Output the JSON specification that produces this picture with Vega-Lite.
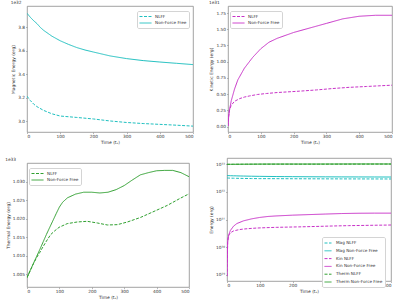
{
  "$schema": "https://vega.github.io/schema/vega-lite/v6.json",
  "padding": {"left": 4, "top": 0, "right": 2, "bottom": 2},
  "datasets": {
    "energy": [
      {"kind": "Mag", "model": "Non-Force Free", "series": "Mag Non-Force Free", "t": 0, "erg": 3.92e32},
      {"kind": "Mag", "model": "Non-Force Free", "series": "Mag Non-Force Free", "t": 10, "erg": 3.886e32},
      {"kind": "Mag", "model": "Non-Force Free", "series": "Mag Non-Force Free", "t": 20, "erg": 3.857e32},
      {"kind": "Mag", "model": "Non-Force Free", "series": "Mag Non-Force Free", "t": 30, "erg": 3.832e32},
      {"kind": "Mag", "model": "Non-Force Free", "series": "Mag Non-Force Free", "t": 40, "erg": 3.8e32},
      {"kind": "Mag", "model": "Non-Force Free", "series": "Mag Non-Force Free", "t": 50, "erg": 3.775e32},
      {"kind": "Mag", "model": "Non-Force Free", "series": "Mag Non-Force Free", "t": 75, "erg": 3.725e32},
      {"kind": "Mag", "model": "Non-Force Free", "series": "Mag Non-Force Free", "t": 100, "erg": 3.686e32},
      {"kind": "Mag", "model": "Non-Force Free", "series": "Mag Non-Force Free", "t": 125, "erg": 3.655e32},
      {"kind": "Mag", "model": "Non-Force Free", "series": "Mag Non-Force Free", "t": 150, "erg": 3.628e32},
      {"kind": "Mag", "model": "Non-Force Free", "series": "Mag Non-Force Free", "t": 175, "erg": 3.607e32},
      {"kind": "Mag", "model": "Non-Force Free", "series": "Mag Non-Force Free", "t": 200, "erg": 3.59e32},
      {"kind": "Mag", "model": "Non-Force Free", "series": "Mag Non-Force Free", "t": 250, "erg": 3.557e32},
      {"kind": "Mag", "model": "Non-Force Free", "series": "Mag Non-Force Free", "t": 300, "erg": 3.534e32},
      {"kind": "Mag", "model": "Non-Force Free", "series": "Mag Non-Force Free", "t": 350, "erg": 3.517e32},
      {"kind": "Mag", "model": "Non-Force Free", "series": "Mag Non-Force Free", "t": 400, "erg": 3.505e32},
      {"kind": "Mag", "model": "Non-Force Free", "series": "Mag Non-Force Free", "t": 450, "erg": 3.494e32},
      {"kind": "Mag", "model": "Non-Force Free", "series": "Mag Non-Force Free", "t": 500, "erg": 3.483e32},

      {"kind": "Mag", "model": "NLFF", "series": "Mag NLFF", "t": 0, "erg": 3.214e32},
      {"kind": "Mag", "model": "NLFF", "series": "Mag NLFF", "t": 5, "erg": 3.195e32},
      {"kind": "Mag", "model": "NLFF", "series": "Mag NLFF", "t": 10, "erg": 3.177e32},
      {"kind": "Mag", "model": "NLFF", "series": "Mag NLFF", "t": 20, "erg": 3.147e32},
      {"kind": "Mag", "model": "NLFF", "series": "Mag NLFF", "t": 30, "erg": 3.125e32},
      {"kind": "Mag", "model": "NLFF", "series": "Mag NLFF", "t": 50, "erg": 3.093e32},
      {"kind": "Mag", "model": "NLFF", "series": "Mag NLFF", "t": 75, "erg": 3.064e32},
      {"kind": "Mag", "model": "NLFF", "series": "Mag NLFF", "t": 100, "erg": 3.045e32},
      {"kind": "Mag", "model": "NLFF", "series": "Mag NLFF", "t": 150, "erg": 3.033e32},
      {"kind": "Mag", "model": "NLFF", "series": "Mag NLFF", "t": 200, "erg": 3.02e32},
      {"kind": "Mag", "model": "NLFF", "series": "Mag NLFF", "t": 250, "erg": 3.003e32},
      {"kind": "Mag", "model": "NLFF", "series": "Mag NLFF", "t": 300, "erg": 2.99e32},
      {"kind": "Mag", "model": "NLFF", "series": "Mag NLFF", "t": 350, "erg": 2.981e32},
      {"kind": "Mag", "model": "NLFF", "series": "Mag NLFF", "t": 400, "erg": 2.974e32},
      {"kind": "Mag", "model": "NLFF", "series": "Mag NLFF", "t": 450, "erg": 2.967e32},
      {"kind": "Mag", "model": "NLFF", "series": "Mag NLFF", "t": 500, "erg": 2.959e32},

      {"kind": "Kin", "model": "Non-Force Free", "series": "Kin Non-Force Free", "t": 0, "erg": 9e28},
      {"kind": "Kin", "model": "Non-Force Free", "series": "Kin Non-Force Free", "t": 2, "erg": 0.15e31},
      {"kind": "Kin", "model": "Non-Force Free", "series": "Kin Non-Force Free", "t": 5, "erg": 0.27e31},
      {"kind": "Kin", "model": "Non-Force Free", "series": "Kin Non-Force Free", "t": 10, "erg": 0.40e31},
      {"kind": "Kin", "model": "Non-Force Free", "series": "Kin Non-Force Free", "t": 20, "erg": 0.58e31},
      {"kind": "Kin", "model": "Non-Force Free", "series": "Kin Non-Force Free", "t": 30, "erg": 0.72e31},
      {"kind": "Kin", "model": "Non-Force Free", "series": "Kin Non-Force Free", "t": 50, "erg": 0.90e31},
      {"kind": "Kin", "model": "Non-Force Free", "series": "Kin Non-Force Free", "t": 75, "erg": 1.065e31},
      {"kind": "Kin", "model": "Non-Force Free", "series": "Kin Non-Force Free", "t": 100, "erg": 1.20e31},
      {"kind": "Kin", "model": "Non-Force Free", "series": "Kin Non-Force Free", "t": 125, "erg": 1.30e31},
      {"kind": "Kin", "model": "Non-Force Free", "series": "Kin Non-Force Free", "t": 150, "erg": 1.36e31},
      {"kind": "Kin", "model": "Non-Force Free", "series": "Kin Non-Force Free", "t": 200, "erg": 1.45e31},
      {"kind": "Kin", "model": "Non-Force Free", "series": "Kin Non-Force Free", "t": 250, "erg": 1.52e31},
      {"kind": "Kin", "model": "Non-Force Free", "series": "Kin Non-Force Free", "t": 300, "erg": 1.59e31},
      {"kind": "Kin", "model": "Non-Force Free", "series": "Kin Non-Force Free", "t": 350, "erg": 1.66e31},
      {"kind": "Kin", "model": "Non-Force Free", "series": "Kin Non-Force Free", "t": 400, "erg": 1.70e31},
      {"kind": "Kin", "model": "Non-Force Free", "series": "Kin Non-Force Free", "t": 450, "erg": 1.715e31},
      {"kind": "Kin", "model": "Non-Force Free", "series": "Kin Non-Force Free", "t": 500, "erg": 1.715e31},

      {"kind": "Kin", "model": "NLFF", "series": "Kin NLFF", "t": 0, "erg": 9e28},
      {"kind": "Kin", "model": "NLFF", "series": "Kin NLFF", "t": 2, "erg": 0.16e31},
      {"kind": "Kin", "model": "NLFF", "series": "Kin NLFF", "t": 4, "erg": 0.24e31},
      {"kind": "Kin", "model": "NLFF", "series": "Kin NLFF", "t": 6, "erg": 0.28e31},
      {"kind": "Kin", "model": "NLFF", "series": "Kin NLFF", "t": 10, "erg": 0.33e31},
      {"kind": "Kin", "model": "NLFF", "series": "Kin NLFF", "t": 20, "erg": 0.39e31},
      {"kind": "Kin", "model": "NLFF", "series": "Kin NLFF", "t": 36, "erg": 0.432e31},
      {"kind": "Kin", "model": "NLFF", "series": "Kin NLFF", "t": 50, "erg": 0.455e31},
      {"kind": "Kin", "model": "NLFF", "series": "Kin NLFF", "t": 66, "erg": 0.473e31},
      {"kind": "Kin", "model": "NLFF", "series": "Kin NLFF", "t": 90, "erg": 0.495e31},
      {"kind": "Kin", "model": "NLFF", "series": "Kin NLFF", "t": 117, "erg": 0.51e31},
      {"kind": "Kin", "model": "NLFF", "series": "Kin NLFF", "t": 150, "erg": 0.525e31},
      {"kind": "Kin", "model": "NLFF", "series": "Kin NLFF", "t": 218, "erg": 0.546e31},
      {"kind": "Kin", "model": "NLFF", "series": "Kin NLFF", "t": 270, "erg": 0.565e31},
      {"kind": "Kin", "model": "NLFF", "series": "Kin NLFF", "t": 320, "erg": 0.587e31},
      {"kind": "Kin", "model": "NLFF", "series": "Kin NLFF", "t": 370, "erg": 0.605e31},
      {"kind": "Kin", "model": "NLFF", "series": "Kin NLFF", "t": 422, "erg": 0.618e31},
      {"kind": "Kin", "model": "NLFF", "series": "Kin NLFF", "t": 460, "erg": 0.628e31},
      {"kind": "Kin", "model": "NLFF", "series": "Kin NLFF", "t": 500, "erg": 0.638e31},

      {"kind": "Therm", "model": "Non-Force Free", "series": "Therm Non-Force Free", "t": 0, "erg": 1.0041e33},
      {"kind": "Therm", "model": "Non-Force Free", "series": "Therm Non-Force Free", "t": 10, "erg": 1.0061e33},
      {"kind": "Therm", "model": "Non-Force Free", "series": "Therm Non-Force Free", "t": 20, "erg": 1.008e33},
      {"kind": "Therm", "model": "Non-Force Free", "series": "Therm Non-Force Free", "t": 30, "erg": 1.0099e33},
      {"kind": "Therm", "model": "Non-Force Free", "series": "Therm Non-Force Free", "t": 40, "erg": 1.0118e33},
      {"kind": "Therm", "model": "Non-Force Free", "series": "Therm Non-Force Free", "t": 50, "erg": 1.0138e33},
      {"kind": "Therm", "model": "Non-Force Free", "series": "Therm Non-Force Free", "t": 60, "erg": 1.0158e33},
      {"kind": "Therm", "model": "Non-Force Free", "series": "Therm Non-Force Free", "t": 75, "erg": 1.0186e33},
      {"kind": "Therm", "model": "Non-Force Free", "series": "Therm Non-Force Free", "t": 90, "erg": 1.0214e33},
      {"kind": "Therm", "model": "Non-Force Free", "series": "Therm Non-Force Free", "t": 100, "erg": 1.0232e33},
      {"kind": "Therm", "model": "Non-Force Free", "series": "Therm Non-Force Free", "t": 110, "erg": 1.0245e33},
      {"kind": "Therm", "model": "Non-Force Free", "series": "Therm Non-Force Free", "t": 125, "erg": 1.0257e33},
      {"kind": "Therm", "model": "Non-Force Free", "series": "Therm Non-Force Free", "t": 150, "erg": 1.0267e33},
      {"kind": "Therm", "model": "Non-Force Free", "series": "Therm Non-Force Free", "t": 175, "erg": 1.0272e33},
      {"kind": "Therm", "model": "Non-Force Free", "series": "Therm Non-Force Free", "t": 200, "erg": 1.0272e33},
      {"kind": "Therm", "model": "Non-Force Free", "series": "Therm Non-Force Free", "t": 225, "erg": 1.027e33},
      {"kind": "Therm", "model": "Non-Force Free", "series": "Therm Non-Force Free", "t": 250, "erg": 1.0272e33},
      {"kind": "Therm", "model": "Non-Force Free", "series": "Therm Non-Force Free", "t": 275, "erg": 1.0279e33},
      {"kind": "Therm", "model": "Non-Force Free", "series": "Therm Non-Force Free", "t": 300, "erg": 1.029e33},
      {"kind": "Therm", "model": "Non-Force Free", "series": "Therm Non-Force Free", "t": 325, "erg": 1.0305e33},
      {"kind": "Therm", "model": "Non-Force Free", "series": "Therm Non-Force Free", "t": 350, "erg": 1.0319e33},
      {"kind": "Therm", "model": "Non-Force Free", "series": "Therm Non-Force Free", "t": 375, "erg": 1.0325e33},
      {"kind": "Therm", "model": "Non-Force Free", "series": "Therm Non-Force Free", "t": 400, "erg": 1.033e33},
      {"kind": "Therm", "model": "Non-Force Free", "series": "Therm Non-Force Free", "t": 425, "erg": 1.0331e33},
      {"kind": "Therm", "model": "Non-Force Free", "series": "Therm Non-Force Free", "t": 450, "erg": 1.0331e33},
      {"kind": "Therm", "model": "Non-Force Free", "series": "Therm Non-Force Free", "t": 475, "erg": 1.0325e33},
      {"kind": "Therm", "model": "Non-Force Free", "series": "Therm Non-Force Free", "t": 500, "erg": 1.0314e33},

      {"kind": "Therm", "model": "NLFF", "series": "Therm NLFF", "t": 0, "erg": 1.0041e33},
      {"kind": "Therm", "model": "NLFF", "series": "Therm NLFF", "t": 10, "erg": 1.006e33},
      {"kind": "Therm", "model": "NLFF", "series": "Therm NLFF", "t": 20, "erg": 1.0079e33},
      {"kind": "Therm", "model": "NLFF", "series": "Therm NLFF", "t": 30, "erg": 1.0096e33},
      {"kind": "Therm", "model": "NLFF", "series": "Therm NLFF", "t": 40, "erg": 1.011e33},
      {"kind": "Therm", "model": "NLFF", "series": "Therm NLFF", "t": 47, "erg": 1.0121e33},
      {"kind": "Therm", "model": "NLFF", "series": "Therm NLFF", "t": 60, "erg": 1.014e33},
      {"kind": "Therm", "model": "NLFF", "series": "Therm NLFF", "t": 73, "erg": 1.01575e33},
      {"kind": "Therm", "model": "NLFF", "series": "Therm NLFF", "t": 86, "erg": 1.0168e33},
      {"kind": "Therm", "model": "NLFF", "series": "Therm NLFF", "t": 99, "erg": 1.01772e33},
      {"kind": "Therm", "model": "NLFF", "series": "Therm NLFF", "t": 124, "erg": 1.01871e33},
      {"kind": "Therm", "model": "NLFF", "series": "Therm NLFF", "t": 155, "erg": 1.01916e33},
      {"kind": "Therm", "model": "NLFF", "series": "Therm NLFF", "t": 186, "erg": 1.01934e33},
      {"kind": "Therm", "model": "NLFF", "series": "Therm NLFF", "t": 217, "erg": 1.01889e33},
      {"kind": "Therm", "model": "NLFF", "series": "Therm NLFF", "t": 248, "erg": 1.01835e33},
      {"kind": "Therm", "model": "NLFF", "series": "Therm NLFF", "t": 279, "erg": 1.01844e33},
      {"kind": "Therm", "model": "NLFF", "series": "Therm NLFF", "t": 310, "erg": 1.01916e33},
      {"kind": "Therm", "model": "NLFF", "series": "Therm NLFF", "t": 351, "erg": 1.02041e33},
      {"kind": "Therm", "model": "NLFF", "series": "Therm NLFF", "t": 392, "erg": 1.02202e33},
      {"kind": "Therm", "model": "NLFF", "series": "Therm NLFF", "t": 433, "erg": 1.02364e33},
      {"kind": "Therm", "model": "NLFF", "series": "Therm NLFF", "t": 474, "erg": 1.02561e33},
      {"kind": "Therm", "model": "NLFF", "series": "Therm NLFF", "t": 500, "erg": 1.02677e33}
    ]
  },
  "columns": 2,
  "align": "none",
  "spacing": {"column": 14, "row": 12},
  "concat": [
    {
      "data": {"name": "energy"},
      "transform": [{"filter": "datum.kind === 'Mag'"}],
      "width": 166,
      "height": 126,
      "title": "1e32",
      "mark": {"type": "line", "color": "#20c0c0", "strokeWidth": 1, "clip": true},
      "encoding": {
        "x": {"field": "t", "type": "quantitative", "scale": {"domain": [0, 500], "nice": false},
              "axis": {"values": [0, 100, 200, 300, 400, 500], "title": "Time (tₐ)"}},
        "y": {"field": "erg", "type": "quantitative", "scale": {"domain": [2.909e32, 3.982e32], "nice": false, "zero": false},
              "axis": {"values": [3.0e32, 3.2e32, 3.4e32, 3.6e32, 3.8e32], "labelExpr": "format(datum.value / 1e32, '.1f')", "title": "Magnetic Energy (erg)"}},
        "strokeDash": {"field": "model", "type": "nominal",
                       "scale": {"domain": ["NLFF", "Non-Force Free"], "range": [[3, 1.5], [1, 0]]},
                       "legend": {"title": null, "orient": "none", "legendX": 110, "legendY": 5, "symbolStrokeColor": "#20c0c0"}}
      }
    },
    {
      "data": {"name": "energy"},
      "transform": [{"filter": "datum.kind === 'Kin'"}],
      "width": 164,
      "height": 126,
      "title": "1e31",
      "mark": {"type": "line", "color": "#c832c8", "strokeWidth": 1, "clip": true},
      "encoding": {
        "x": {"field": "t", "type": "quantitative", "scale": {"domain": [0, 500], "nice": false},
              "axis": {"values": [0, 100, 200, 300, 400, 500], "title": "Time (tₐ)"}},
        "y": {"field": "erg", "type": "quantitative", "scale": {"domain": [-0.083e31, 1.858e31], "nice": false, "zero": false},
              "axis": {"values": [0, 0.25e31, 0.5e31, 0.75e31, 1.0e31, 1.25e31, 1.5e31, 1.75e31], "labelExpr": "format(datum.value / 1e31, '.2f')", "title": "Kinetic Energy (erg)"}},
        "strokeDash": {"field": "model", "type": "nominal",
                       "scale": {"domain": ["NLFF", "Non-Force Free"], "range": [[3, 1.5], [1, 0]]},
                       "legend": {"title": null, "orient": "none", "legendX": 2, "legendY": 5, "symbolStrokeColor": "#c832c8"}}
      }
    },
    {
      "data": {"name": "energy"},
      "transform": [{"filter": "datum.kind === 'Therm'"}],
      "width": 162,
      "height": 124,
      "title": "1e33",
      "mark": {"type": "line", "color": "#30a030", "strokeWidth": 1, "clip": true},
      "encoding": {
        "x": {"field": "t", "type": "quantitative", "scale": {"domain": [0, 500], "nice": false},
              "axis": {"values": [0, 100, 200, 300, 400, 500], "title": "Time (tₐ)"}},
        "y": {"field": "erg", "type": "quantitative", "scale": {"domain": [1.00159e33, 1.0351e33], "nice": false, "zero": false},
              "axis": {"values": [1.005e33, 1.01e33, 1.015e33, 1.02e33, 1.025e33, 1.03e33], "labelExpr": "format(datum.value / 1e33, '.3f')", "title": "Thermal Energy (erg)"}},
        "strokeDash": {"field": "model", "type": "nominal",
                       "scale": {"domain": ["NLFF", "Non-Force Free"], "range": [[3, 1.5], [1, 0]]},
                       "legend": {"title": null, "orient": "none", "legendX": 2, "legendY": 5, "symbolStrokeColor": "#30a030"}}
      }
    },
    {
      "data": {"name": "energy"},
      "width": 164,
      "height": 123,
      "mark": {"type": "line", "strokeWidth": 1, "clip": true},
      "encoding": {
        "x": {"field": "t", "type": "quantitative", "scale": {"domain": [0, 500], "nice": false},
              "axis": {"values": [0, 100, 200, 300, 400, 500], "title": "Time (tₐ)"}},
        "y": {"field": "erg", "type": "quantitative", "scale": {"type": "log", "domain": [6e28, 1.7e33], "nice": false},
              "axis": {"values": [1e29, 1e30, 1e31, 1e32, 1e33],
                       "labelExpr": "datum.value < 3e29 ? '10²⁹' : datum.value < 3e30 ? '10³⁰' : datum.value < 3e31 ? '10³¹' : datum.value < 3e32 ? '10³²' : '10³³'",
                       "title": "Energy (erg)"}},
        "color": {"field": "series", "type": "nominal",
                  "scale": {"domain": ["Mag NLFF", "Mag Non-Force Free", "Kin NLFF", "Kin Non-Force Free", "Therm NLFF", "Therm Non-Force Free"],
                            "range": ["#20c0c0", "#20c0c0", "#c832c8", "#c832c8", "#30a030", "#30a030"]},
                  "legend": {"title": null, "orient": "none", "legendX": 95, "legendY": 79, "rowPadding": 0.8,
                             "symbolType": "stroke", "symbolSize": 49, "labelOffset": 4}},
        "strokeDash": {"field": "series", "type": "nominal",
                       "scale": {"domain": ["Mag NLFF", "Mag Non-Force Free", "Kin NLFF", "Kin Non-Force Free", "Therm NLFF", "Therm Non-Force Free"],
                                 "range": [[3, 1.5], [1, 0], [3, 1.5], [1, 0], [3, 1.5], [1, 0]]},
                       "legend": {"title": null, "orient": "none", "legendX": 95, "legendY": 79, "rowPadding": 0.8,
                                  "symbolType": "stroke", "symbolSize": 49, "labelOffset": 4}}
      }
    }
  ],
  "resolve": {"scale": {"strokeDash": "independent", "color": "independent", "x": "independent", "y": "independent"}, "legend": {"strokeDash": "independent", "color": "independent"}},
  "config": {
    "font": "DejaVu Sans",
    "view": {"stroke": "#8c8c8c", "strokeWidth": 0.8},
    "axis": {
      "domain": false, "grid": false,
      "tickColor": "#8c8c8c", "tickSize": 1.5, "tickWidth": 0.6,
      "labelFontSize": 4.3, "labelColor": "#333333", "labelPadding": 1,
      "titleFontSize": 4.4, "titleFontWeight": "normal", "titleColor": "#333333", "titlePadding": 2
    },
    "legend": {
      "labelFontSize": 4.2, "labelColor": "#333333",
      "symbolType": "M-1,0H3", "symbolSize": 36, "symbolStrokeWidth": 1,
      "strokeColor": "#d4d4d4", "fillColor": "white", "padding": 2, "cornerRadius": 1.5,
      "rowPadding": 0.5, "labelOffset": 9
    },
    "title": {"fontSize": 4.3, "fontWeight": "normal", "anchor": "start", "offset": 0.5, "color": "#333333"}
  }
}
